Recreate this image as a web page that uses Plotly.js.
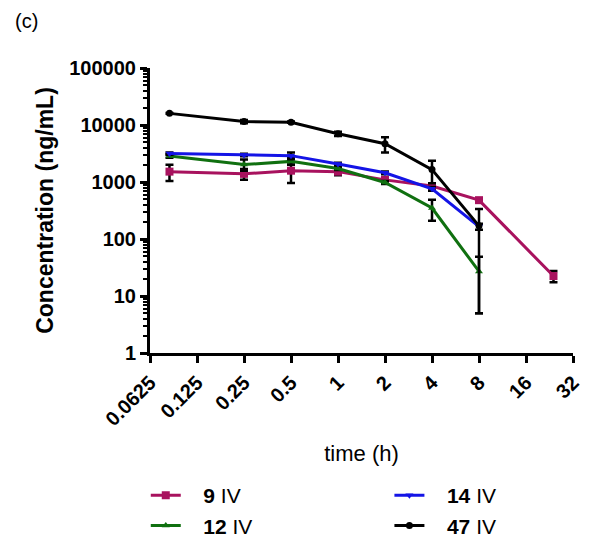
<!DOCTYPE html>
<html>
<head>
<meta charset="utf-8">
<script src="https://cdn.plot.ly/plotly-3.0.1.min.js"></script>
<style>html,body{margin:0;padding:0;background:#fff;}#chart{width:591px;height:537px;}</style>
</head>
<body>
<div id="chart"></div>
<script>
// time points (h)
const time = [0.0833, 0.25, 0.5, 1, 2, 4, 8, 24];
// concentrations (ng/mL) and SD
const conc9  = [1520, 1390, 1580, 1520, 1090, 850, 480, 22.4];
const err9   = [480, 300, 620, 200, 110, 60, 30, 5];
const conc12 = [2860, 2020, 2300, 1720, 980, 350, 27];
const err12  = [200, 450, 300, 100, 60, 140, 22];
const conc14 = [3150, 2980, 2900, 2070, 1450, 760, 165];
const err14  = [150, 150, 400, 100, 80, 60, 20];
const conc47 = [16000, 11500, 11200, 7000, 4700, 1650, 170];
const err47  = [300, 800, 300, 600, 1400, 700, 165];

const xTickVals = [0.0625, 0.125, 0.25, 0.5, 1, 2, 4, 8, 16, 32];
const xTickText = ['0.0625', '0.125', '0.25', '0.5', '1', '2', '4', '8', '16', '32'];
const yTickVals = [1, 10, 100, 1000, 10000, 100000];
const yTickText = ['1', '10', '100', '1000', '10000', '100000'];

const FONT = 'Liberation Sans, Arial, sans-serif';
const NB = '\u00a0\u00a0\u00a0';

function series(x, y, e, name, color, symbol, size, legend, rank) {
  return {
    x: x, y: y, type: 'scatter', mode: 'lines+markers', name: name,
    legend: legend, legendrank: rank,
    line: {color: color, width: 3},
    marker: {color: color, symbol: symbol, size: size},
    error_y: {type: 'data', array: e, visible: true, color: '#000', thickness: 2.5, width: 4},
    cliponaxis: false
  };
}

const traces = [
  series(time, conc9, err9, NB + '<b>9</b> IV', '#A8125E', 'square', 8, 'legend', 1),
  series(time.slice(0, 7), conc12, err12, NB + '<b>12</b> IV', '#107010', 'triangle-up', 7, 'legend', 2),
  series(time.slice(0, 7), conc14, err14, NB + '<b>14</b> IV', '#1414E6', 'triangle-down', 7, 'legend2', 3),
  series(time.slice(0, 7), conc47, err47, NB + '<b>47</b> IV', '#000000', 'circle', 7, 'legend2', 4)
];

const layout = {
  width: 591, height: 537,
  margin: {l: 150, r: 18, t: 68, b: 184, autoexpand: false},
  paper_bgcolor: '#fff', plot_bgcolor: '#fff',
  font: {family: FONT, color: '#000'},
  showlegend: true,
  xaxis: {
    type: 'log',
    range: [Math.log10(0.0625), Math.log10(32)],
    tickmode: 'array', tickvals: xTickVals, ticktext: xTickText,
    tickangle: -45,
    tickfont: {family: FONT, size: 20, color: '#000', weight: 'bold'},
    ticks: 'outside', ticklen: 7, tickwidth: 3, tickcolor: '#000',
    showline: true, linewidth: 3, linecolor: '#000',
    showgrid: false, zeroline: false,
    title: {text: 'time (h)', font: {family: FONT, size: 22, color: '#000'}, standoff: 17},
    automargin: false
  },
  yaxis: {
    type: 'log',
    range: [0, 5],
    tickmode: 'array', tickvals: yTickVals, ticktext: yTickText,
    tickfont: {family: FONT, size: 20, color: '#000', weight: 'bold'},
    ticks: 'outside', ticklen: 7, tickwidth: 3, tickcolor: '#000',
    minor: {tickmode: 'linear', dtick: 'D1', ticks: 'outside', ticklen: 4, tickwidth: 2, tickcolor: '#000', showgrid: false},
    showline: true, linewidth: 3, linecolor: '#000',
    showgrid: false, zeroline: false,
    title: {text: '<b>Concentration (ng/mL)</b>', font: {family: FONT, size: 23, color: '#000'}, standoff: 10},
    automargin: false
  },
  legend: {
    x: -0.01, xanchor: 'left', y: -0.428, yanchor: 'top',
    orientation: 'v', font: {family: FONT, size: 21, color: '#000'},
    bgcolor: 'rgba(0,0,0,0)', tracegroupgap: 0
  },
  legend2: {
    x: 0.566, xanchor: 'left', y: -0.428, yanchor: 'top',
    orientation: 'v', font: {family: FONT, size: 21, color: '#000'},
    bgcolor: 'rgba(0,0,0,0)', tracegroupgap: 0
  },
  annotations: [{
    text: '(c)', xref: 'paper', yref: 'paper', x: -0.325, y: 1.165,
    xanchor: 'left', yanchor: 'middle', showarrow: false,
    font: {family: FONT, size: 20, color: '#000'}
  }]
};

Plotly.newPlot('chart', traces, layout, {displayModeBar: false, staticPlot: true});
</script>
</body>
</html>
